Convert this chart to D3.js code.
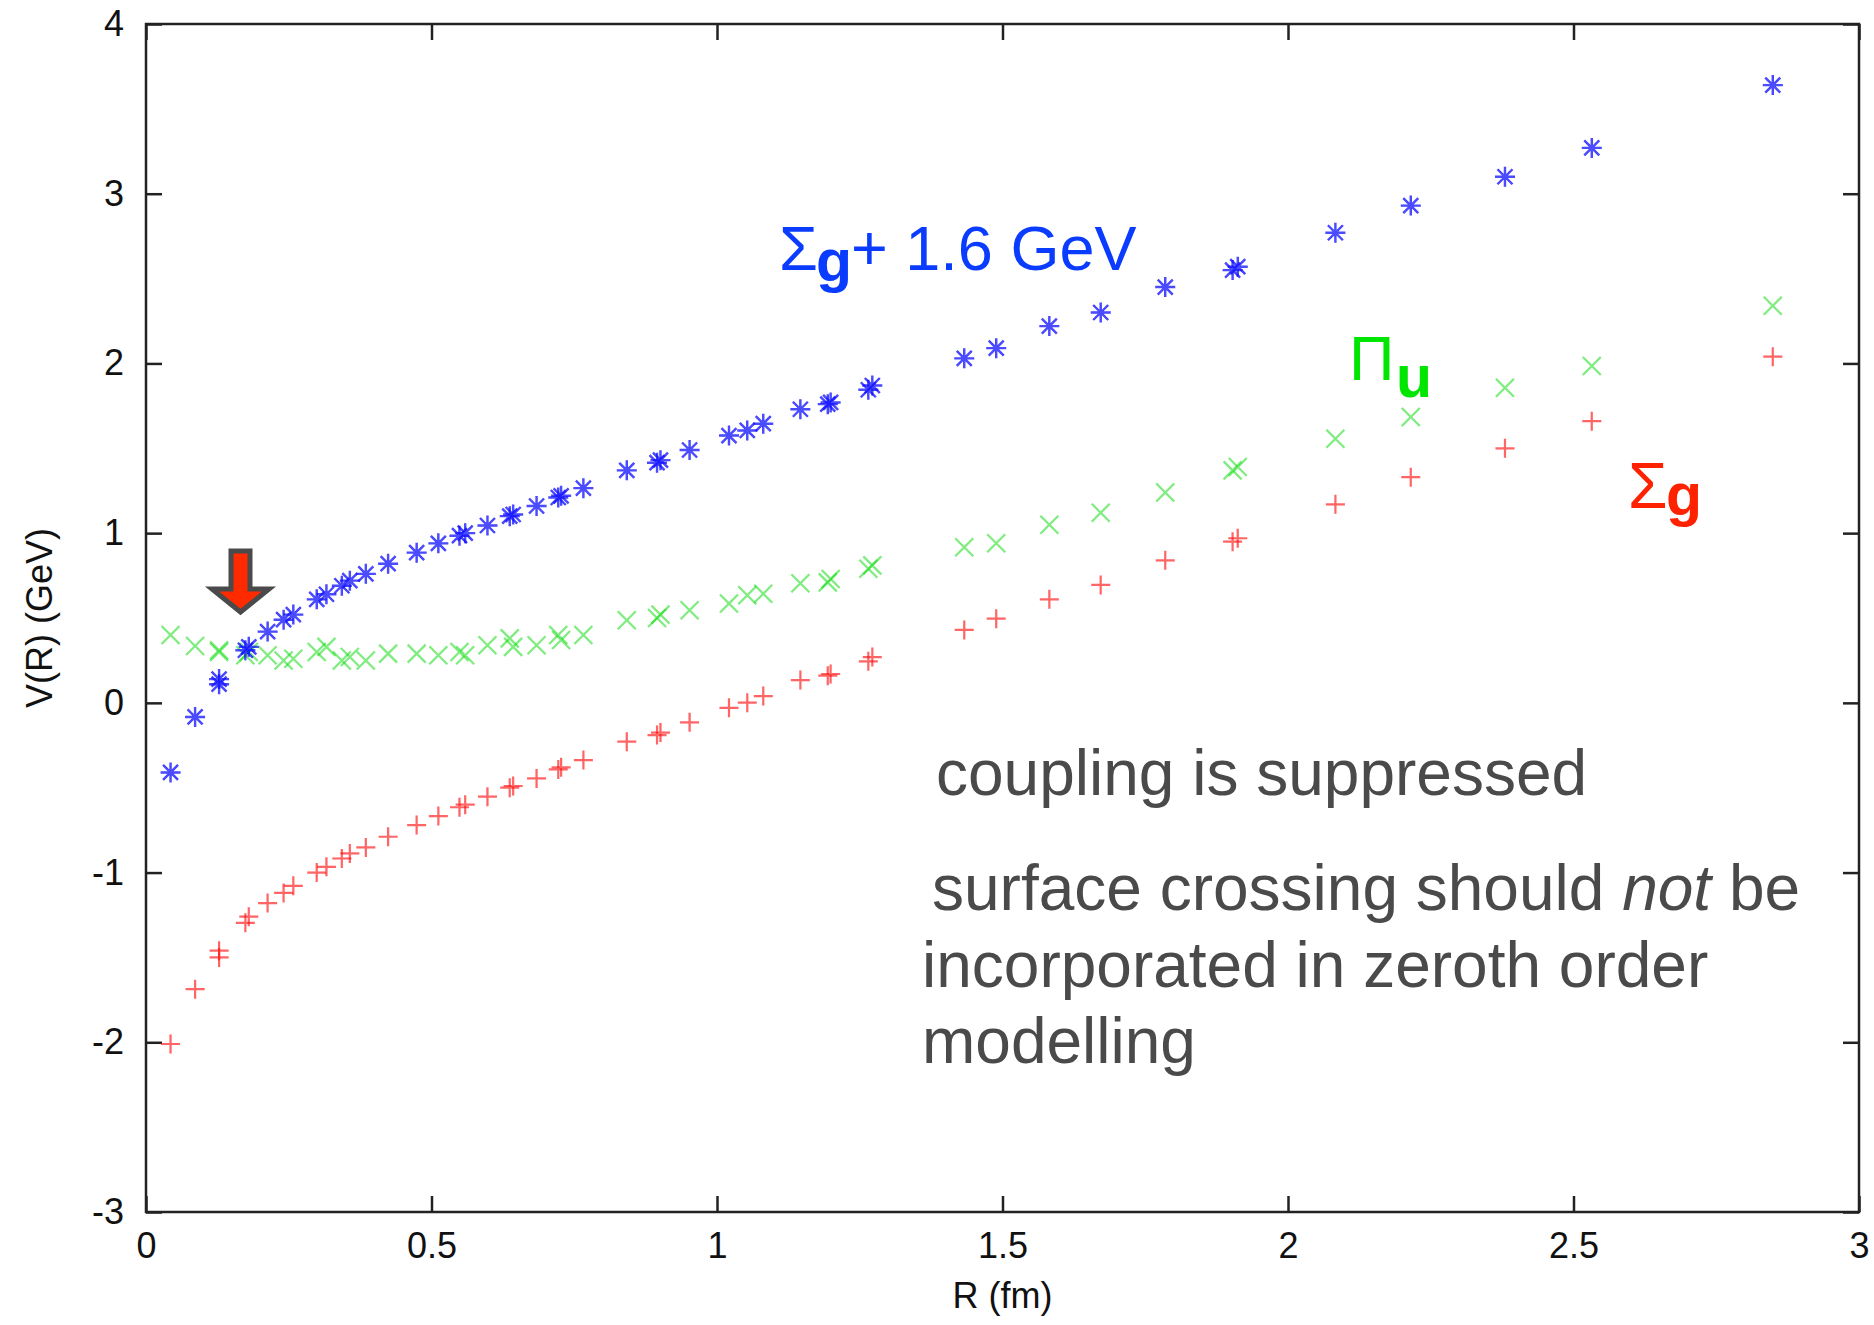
<!DOCTYPE html>
<meta charset="utf-8">
<style>
    body { margin: 0; background: #fff; }
    svg { display: block; font-family: "Liberation Sans", Arial, Helvetica, sans-serif; }
    .axis text { font-size: 36px; fill: #111; }
    .axis line { stroke: #222; stroke-width: 2.5px; }
    .axis path { display: none; }
    .frame { fill: none; stroke: #222; stroke-width: 2.5px; }
    .note { font-size: 64px; fill: #4a4a4a; }
</style>
<svg width="1874" height="1325"></svg>
<script src="https://d3js.org/d3.v7.min.js"></script>
<script>

    // R in fm (same lattice separations for the three potentials)
    var rValues = [0.043, 0.086, 0.128, 0.128, 0.174, 0.180, 0.213, 0.241, 0.258, 0.299,
                   0.316, 0.343, 0.357, 0.385, 0.424, 0.474, 0.512, 0.549, 0.559, 0.598,
                   0.637, 0.643, 0.684, 0.722, 0.727, 0.766, 0.842, 0.895, 0.901, 0.952,
                   1.021, 1.053, 1.081, 1.146, 1.194, 1.199, 1.265, 1.272, 1.433, 1.489,
                   1.582, 1.672, 1.785, 1.903, 1.912, 2.083, 2.215, 2.380, 2.532, 2.849];

    // Sigma_g + 1.6 GeV (blue asterisks)
    var sigmaShifted = [-0.41, -0.083, 0.11, 0.14, 0.31, 0.33, 0.42, 0.49, 0.52, 0.61,
                        0.64, 0.69, 0.72, 0.76, 0.82, 0.885, 0.94, 0.985, 1.00, 1.045,
                        1.10, 1.11, 1.16, 1.21, 1.22, 1.265, 1.37, 1.415, 1.43, 1.49,
                        1.575, 1.605, 1.645, 1.73, 1.76, 1.77, 1.845, 1.87, 2.03, 2.09,
                        2.22, 2.30, 2.45, 2.55, 2.57, 2.77, 2.93, 3.10, 3.27, 3.64];

    // Pi_u (green crosses)
    var piU = [0.40, 0.335, 0.31, 0.30, 0.28, 0.30, 0.28, 0.25, 0.26, 0.30,
               0.33, 0.25, 0.27, 0.25, 0.29, 0.29, 0.28, 0.30, 0.28, 0.34,
               0.38, 0.33, 0.34, 0.40, 0.37, 0.40, 0.487, 0.50, 0.52, 0.546,
               0.585, 0.634, 0.643, 0.705, 0.71, 0.73, 0.79, 0.81, 0.917, 0.94,
               1.05, 1.12, 1.24, 1.37, 1.39, 1.556, 1.684, 1.857, 1.985, 2.34];

    // Sigma_g (red plus signs)
    var sigmaG = [-2.01, -1.687, -1.50, -1.46, -1.296, -1.26, -1.18, -1.12, -1.078, -1.00,
                  -0.966, -0.917, -0.887, -0.852, -0.789, -0.72, -0.667, -0.615, -0.60, -0.553,
                  -0.50, -0.49, -0.445, -0.392, -0.38, -0.337, -0.229, -0.19, -0.175, -0.115,
                  -0.029, 0.001, 0.040, 0.134, 0.160, 0.17, 0.245, 0.27, 0.43, 0.496,
                  0.61, 0.695, 0.84, 0.95, 0.97, 1.17, 1.33, 1.50, 1.66, 2.04];

    var xTicks = [0, 0.5, 1, 1.5, 2, 2.5, 3];
    var yTicks = [-3, -2, -1, 0, 1, 2, 3, 4];

    var svg = d3.select("svg");

    var plotLeft = 146, plotRight = 1859, plotTop = 24, plotBottom = 1212;

    var x = d3.scaleLinear().domain([0, 3]).range([plotLeft, plotRight]);
    var y = d3.scaleLinear().domain([-3, 4]).range([plotBottom, plotTop]);

    var defs = svg.append("defs");
    defs.append("filter").attr("id", "soft")
            .append("feGaussianBlur").attr("stdDeviation", 0.7);

    // axes, ticks pointing inwards on all four sides
    svg.append("g").attr("class", "axis")
            .attr("transform", "translate(0," + plotBottom + ")")
            .call(d3.axisBottom(x).tickValues(xTicks).tickSize(-16).tickPadding(20)
                    .tickFormat(function(d) { return String(d); }));
    svg.append("g").attr("class", "axis")
            .attr("transform", "translate(0," + plotTop + ")")
            .call(d3.axisTop(x).tickValues(xTicks).tickSize(-16).tickFormat(""));
    svg.append("g").attr("class", "axis")
            .attr("transform", "translate(" + plotLeft + ",0)")
            .call(d3.axisLeft(y).tickValues(yTicks).tickSize(-16).tickPadding(22)
                    .tickFormat(function(d) { return String(d); }));
    svg.append("g").attr("class", "axis")
            .attr("transform", "translate(" + plotRight + ",0)")
            .call(d3.axisRight(y).tickValues(yTicks).tickSize(-16).tickFormat(""));

    svg.append("rect").attr("class", "frame")
            .attr("x", plotLeft).attr("y", plotTop)
            .attr("width", plotRight - plotLeft).attr("height", plotBottom - plotTop);

    svg.append("text")
            .attr("x", x(1.5)).attr("y", 1308)
            .attr("text-anchor", "middle")
            .style("font-size", "36px").style("fill", "#111")
            .text("R (fm)");

    svg.append("text")
            .attr("transform", "translate(52," + y(0.5) + ") rotate(-90)")
            .attr("text-anchor", "middle")
            .style("font-size", "36px").style("fill", "#111")
            .text("V(R) (GeV)");

    // point markers
    var plusPath = "M-9.5,0H9.5M0,-9.5V9.5";
    var crossPath = "M-9,-9L9,9M-9,9L9,-9";
    var starPath = "M-10,0H10M0,-10V10M-7.5,-7.5L7.5,7.5M-7.5,7.5L7.5,-7.5";

    function drawSeries(values, path, color, opacity, width) {
        svg.append("g")
                .attr("filter", "url(#soft)")
                .selectAll("path")
                .data(values)
                .enter().append("path")
                .attr("transform", function(d, i) { return "translate(" + x(rValues[i]) + "," + y(d) + ")"; })
                .attr("d", path)
                .attr("fill", "none")
                .attr("stroke", color)
                .attr("stroke-opacity", opacity)
                .attr("stroke-width", width);
    }

    drawSeries(sigmaG, plusPath, "#ff1010", 0.65, 2.2);
    drawSeries(piU, crossPath, "#10dd10", 0.55, 2.2);
    drawSeries(sigmaShifted, starPath, "#0a0aff", 0.75, 2.4);

    // arrow pointing at the crossing
    svg.append("path")
            .attr("d", "M231,551H250V589H269L240.5,612L212,589H231Z")
            .attr("fill", "#ff2a00")
            .attr("stroke", "#4a4a4a")
            .attr("stroke-width", 5)
            .attr("stroke-linejoin", "miter");

    // curve labels
    var lab1 = svg.append("text").style("fill", "#0a3cff").style("font-size", "63px");
    lab1.append("tspan").attr("x", 779).attr("y", 270).text("Σ");
    lab1.append("tspan").attr("x", 816).attr("y", 281).style("font-weight", "bold").style("font-size", "59px").text("g");
    lab1.append("tspan").attr("x", 851).attr("y", 270).text("+ 1.6 GeV");

    var lab2 = svg.append("text").style("fill", "#00e600").style("font-size", "63px");
    lab2.append("tspan").attr("x", 1349).attr("y", 380).text("Π");
    lab2.append("tspan").attr("x", 1396).attr("y", 397).style("font-weight", "bold").style("font-size", "59px").text("u");

    var lab3 = svg.append("text").style("fill", "#ff2200").style("font-size", "64px");
    lab3.append("tspan").attr("x", 1628).attr("y", 508).text("Σ");
    lab3.append("tspan").attr("x", 1666).attr("y", 515).style("font-weight", "bold").style("font-size", "59px").text("g");

    // remarks
    svg.append("text").attr("class", "note").attr("x", 936).attr("y", 795).text("coupling is suppressed");
    var l2 = svg.append("text").attr("class", "note").attr("x", 932).attr("y", 910);
    l2.append("tspan").text("surface crossing should ");
    l2.append("tspan").style("font-style", "italic").text("not");
    l2.append("tspan").text(" be");
    svg.append("text").attr("class", "note").attr("x", 922).attr("y", 987).text("incorporated in zeroth order");
    svg.append("text").attr("class", "note").attr("x", 922).attr("y", 1063).text("modelling");

</script>
